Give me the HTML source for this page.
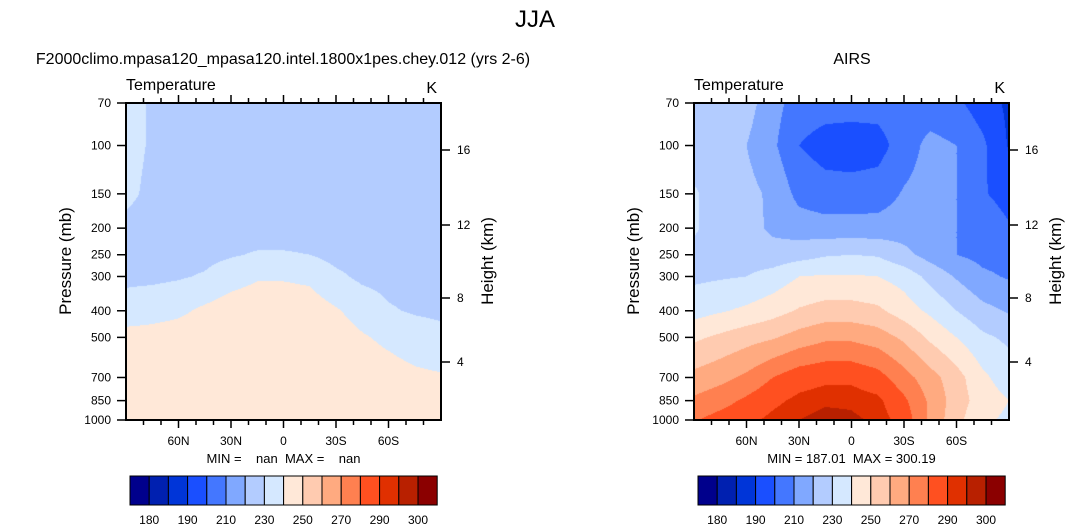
<!DOCTYPE html>
<html><head><meta charset="utf-8"><style>
html,body{margin:0;padding:0;background:#fff;}
body{width:1070px;height:529px;position:relative;overflow:hidden;font-family:"Liberation Sans",Arial,sans-serif;}
svg{position:absolute;left:0;top:0;}
</style></head><body>
<svg id="s" width="1070" height="529" viewBox="0 0 1070 529" xmlns="http://www.w3.org/2000/svg">
<text x="535" y="27" text-anchor="middle" font-size="24">JJA</text>
<text x="283" y="64" text-anchor="middle" font-size="16">F2000climo.mpasa120_mpasa120.intel.1800x1pes.chey.012 (yrs 2-6)</text>
<text x="852" y="64" text-anchor="middle" font-size="16">AIRS</text>
<g id="L"></g>
<g id="R"></g>
</svg>
<script>
const levels = [180,185,190,200,210,220,230,240,250,260,270,280,290,295,300];
const levelLabels = ["180","190","210","230","250","270","290","300"];
const colors = ["#00008c","#0020b0","#0035d8","#1a4fff","#4477ff","#80a8ff","#b3ccff","#d5e8ff","#ffe8d8","#ffcbb0","#ffaa80","#ff8050","#ff5020","#e03000","#b82000","#8b0000"];
const lats = [90,75,60,45,30,15,0,-15,-30,-45,-60,-75,-90];
const pres = [70,100,150,200,250,300,400,500,700,850,1000];
const pTicks = [70,100,150,200,250,300,400,500,700,850,1000];
const latTicks = [60,30,0,-30,-60];
const latTickLabels = ["60N","30N","0","30S","60S"];
const kmTicks = ["4","8","12","16"];
const modelT = [
[233,229,225,225,225,225,225,225,225,225,225,225,225],
[233,229,225,225,225,225,225,225,225,225,225,225,225],
[232,228,225,225,225,225,225,225,225,225,225,225,225],
[228,226,225,225,225,225,225,225,225,225,225,225,225],
[226,226,226,227,229,231,231,230,227,226,225,225,225],
[228,228,229,231,236,239,239,238,232,228,227,226,226],
[234,236,238,242,245,246,246,245,241,236,231,229,228],
[244,244,245,246,246,246,246,246,245,241,238,235,233],
[245,245,245,245,245,245,245,245,245,245,244,242,241],
[245,245,245,245,245,245,245,245,245,245,245,245,245],
[245,245,245,245,245,245,245,245,245,245,245,245,245]];
const airsT = [
[226,226,224,214,205,204,204,204,206,204,202,195,188],
[226,225,220,212,200,196,195,196,205,213,210,202,189],
[231,226,223,218,207,204,204,205,211,214,210,201,196],
[231,226,224,218,215,214,214,214,215,214,210,207,201],
[228,226,225,224,226,229,230,229,223,216,210,207,206],
[228,229,230,234,240,241,241,240,236,227,219,212,209],
[236,239,242,246,251,254,254,252,245,238,230,223,219],
[248,252,256,259,264,268,268,265,258,248,240,232,228],
[263,267,272,280,286,288,288,284,274,264,254,242,235],
[272,276,282,288,292,294,294,292,282,268,255,245,240],
[279,284,288,292,295,297,296,294,286,268,253,242,238]];
const modelMin = "nan", modelMax = "nan";
const airsMin = "187.01", airsMax = "300.19";

const NS="http://www.w3.org/2000/svg";
function mk(tag,attrs,parent){const e=document.createElementNS(NS,tag);for(const k in attrs)e.setAttribute(k,attrs[k]);parent.appendChild(e);return e;}
const Y0=103,Y1=420,LP0=Math.log10(70),LP1=Math.log10(1000);
function yOf(p){return Y0+(Math.log10(p)-LP0)/(LP1-LP0)*(Y1-Y0);}
function colorOf(v){let i=0;while(i<levels.length&&v>=levels[i])i++;return colors[i];}
function interp(grid,lat,p){
  let fi=(90-lat)/15; if(fi>11.999)fi=11.999; if(fi<0)fi=0;
  const lp=Math.log10(p);
  let j=0; while(j<pres.length-2&&lp>Math.log10(pres[j+1]))j++;
  let fj=(lp-Math.log10(pres[j]))/(Math.log10(pres[j+1])-Math.log10(pres[j])); fj=Math.max(0,Math.min(1,fj));
  const i=Math.floor(fi),a=fi-i;
  const v00=grid[j][i],v01=grid[j][i+1],v10=grid[j+1][i],v11=grid[j+1][i+1];
  return (v00*(1-a)+v01*a)*(1-fj)+(v10*(1-a)+v11*a)*fj;
}
function panel(g,X0,grid,mn,mx){
  const W=315;
  const xOf=lat=>X0+(90-lat)/180*W;
  const cv=document.createElement('canvas');cv.width=W;cv.height=Y1-Y0;
  const ctx=cv.getContext('2d');
  for(let py=0;py<Y1-Y0;py++){
    const p=Math.pow(10,LP0+(py+0.5)/(Y1-Y0)*(LP1-LP0));
    for(let px=0;px<W;px++){
      const lat=90-(px+0.5)/W*180;
      ctx.fillStyle=colorOf(interp(grid,lat,p));ctx.fillRect(px,py,1,1);
    }
  }
  const im=mk('image',{x:X0,y:Y0,width:W,height:Y1-Y0,href:cv.toDataURL()},g);
  
  
  const box=mk('rect',{x:X0,y:Y0,width:W,height:Y1-Y0,fill:'none',stroke:'#000','stroke-width':2},g);
  
  
  for(let lat=80;lat>=-80;lat-=10){
    const x=xOf(lat),maj=lat%30===0,L=maj?8:5;
    mk('line',{x1:x,x2:x,y1:Y1,y2:Y1+L,stroke:'#000','stroke-width':1.5},g);
    mk('line',{x1:x,x2:x,y1:Y0,y2:Y0-L,stroke:'#000','stroke-width':1.5},g);
  }
  latTicks.forEach((lat,k)=>{
    const t=mk('text',{x:xOf(lat),y:Y1+25,'text-anchor':'middle','font-size':12},g);t.textContent=latTickLabels[k];
    
    
  });
  pTicks.forEach(p=>{
    const y=yOf(p);
    mk('line',{x1:X0-9,x2:X0,y1:y,y2:y,stroke:'#000','stroke-width':1.5},g);
    const t=mk('text',{x:X0-15,y:y+4,'text-anchor':'end','font-size':12},g);t.textContent=p;
    
    
  });
  const kmY=[362,298,225,150];
  kmTicks.forEach((k,i)=>{
    const y=kmY[i];
    mk('line',{x1:X0+W,x2:X0+W+9,y1:y,y2:y,stroke:'#000','stroke-width':1.5},g);
    const t=mk('text',{x:X0+W+16,y:y+4,'font-size':12},g);t.textContent=k;
    
    
  });
  let t=mk('text',{x:X0,y:90,'font-size':16},g);t.textContent='Temperature';
  
  
  t=mk('text',{x:X0+W-4,y:93,'font-size':16,'text-anchor':'end'},g);t.textContent='K';
  
  
  t=mk('text',{x:0,y:0,'font-size':17,'text-anchor':'middle',transform:`translate(${X0-55},261) rotate(-90)`},g);t.textContent='Pressure (mb)';
  
  
  t=mk('text',{x:0,y:0,'font-size':17,'text-anchor':'middle',transform:`translate(${X0+W+52},261) rotate(-90)`},g);t.textContent='Height (km)';
  
  
  t=mk('text',{x:X0+W/2,y:463,'font-size':13,'text-anchor':'middle'},g);t.textContent=`MIN = ${mn==='nan'?'   nan':mn}  MAX = ${mx==='nan'?'   nan':mx}`;
  t.style.whiteSpace='pre';
  
  
  const cb0=X0+4,bw=19.2;
  colors.forEach((c,i)=>{
    const r=mk('rect',{x:cb0+i*bw,y:476,width:bw,height:29,fill:c,stroke:'#000','stroke-width':1},g);
    
    
  });
  levelLabels.forEach((l)=>{
    const i=levels.indexOf(+l);
    const tt=mk('text',{x:cb0+(i+1)*bw,y:524,'font-size':12,'text-anchor':'middle'},g);tt.textContent=l;
    
    
  });
}
panel(document.getElementById('L'),126,modelT,modelMin,modelMax);
panel(document.getElementById('R'),694,airsT,airsMin,airsMax);
</script>
</body></html>
